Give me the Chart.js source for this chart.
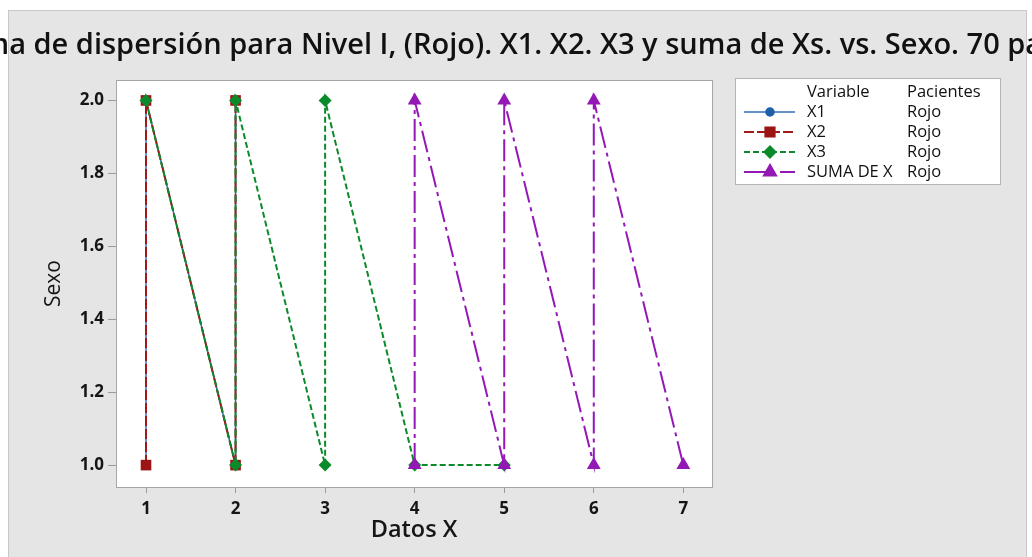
<!DOCTYPE html>
<html>
<head>
<meta charset="utf-8">
<script src="https://cdn.jsdelivr.net/npm/chart.js@4/dist/chart.umd.min.js"></script>
<style>
  body { margin: 0; background: #fff; }
  #wrap { width: 1032px; height: 557px; }
</style>
</head>
<body>
<div id="wrap"><canvas id="mycanvas" width="1032" height="557"></canvas></div>
<script>
// data (points in the order they are joined)
var xTicks = [1, 2, 3, 4, 5, 6, 7];
var yTicks = [1.0, 1.2, 1.4, 1.6, 1.8, 2.0];

var x1X = [1, 1, 2, 2];
var x1Y = [1, 2, 1, 2];
var x2X = [1, 1, 2, 2];
var x2Y = [1, 2, 1, 2];
var x3X = [1, 2, 2, 3, 3, 4, 5];
var x3Y = [2, 1, 2, 1, 2, 1, 1];
var sumaX = [4, 4, 5, 5, 6, 6, 7];
var sumaY = [1, 2, 1, 2, 1, 2, 1];

var seriesNames = ['X1', 'X2', 'X3', 'SUMA DE X'];
var groupName = 'Rojo';
var titleText = 'Diagrama de dispersión para Nivel I, (Rojo). X1. X2. X3 y suma de Xs. vs. Sexo. 70 pacientes';

function pts(xs, ys) {
    var out = [];
    for (var i = 0; i < xs.length; i++) {
        out.push({x: xs[i], y: ys[i]});
    }
    return out;
}

var FONT = "'Open Sans', 'DejaVu Sans', sans-serif";

var datasets = [
    {
        label: seriesNames[0], data: pts(x1X, x1Y),
        borderColor: '#2f6fb8', backgroundColor: '#1f5fa8', borderWidth: 1.5,
        pointStyle: 'circle', pointRadius: 5, order: 4
    },
    {
        label: seriesNames[1], data: pts(x2X, x2Y),
        borderColor: '#a01818', backgroundColor: '#9b1515', borderWidth: 2, borderDash: [10, 3],
        pointStyle: 'rect', pointRadius: 7.5, order: 3
    },
    {
        label: seriesNames[2], data: pts(x3X, x3Y),
        borderColor: '#0b8a2b', backgroundColor: '#0b8a2b', borderWidth: 2, borderDash: [6, 3],
        pointStyle: 'rectRot', pointRadius: 6.5, order: 2
    },
    {
        label: seriesNames[3], data: pts(sumaX, sumaY),
        borderColor: '#9318b6', backgroundColor: '#9318b6', borderWidth: 2, borderDash: [22, 5, 4, 5],
        pointStyle: 'triangle', pointRadius: 8, order: 1
    }
];
datasets.forEach(function (d) {
    d.showLine = true;
    d.fill = false;
    d.tension = 0;
    d.pointBorderWidth = 0;
    d.pointBorderColor = d.backgroundColor;
    d.pointBackgroundColor = d.backgroundColor;
    d.pointHoverRadius = d.pointRadius;
});

// grey panel, white plot box, title and the two column legend
var paperPlugin = {
    id: 'paper',
    beforeDraw: function (chart) {
        var c = chart.ctx, a = chart.chartArea;
        c.save();
        c.fillStyle = '#ffffff';
        c.fillRect(0, 0, chart.width, chart.height);
        c.fillStyle = '#e5e5e5';
        c.fillRect(9, 11, 1018, 560);
        c.strokeStyle = '#c8c8c8';
        c.lineWidth = 1;
        c.strokeRect(8.5, 10.5, 1018, 560);
        c.fillStyle = '#ffffff';
        c.fillRect(a.left, a.top, a.right - a.left, a.bottom - a.top);
        c.restore();
    },
    afterDraw: function (chart) {
        var c = chart.ctx, a = chart.chartArea;
        c.save();
        c.strokeStyle = '#a6a6a6';
        c.lineWidth = 1;
        c.strokeRect(a.left + 0.5, a.top + 0.5, a.right - a.left, a.bottom - a.top);

        // title (wider than the page, so it gets cut at both sides)
        c.fillStyle = '#111';
        c.font = '600 29px ' + FONT;
        c.textAlign = 'center';
        c.textBaseline = 'middle';
        c.fillText(titleText, chart.width / 2, 46);

        // legend
        var lx = 735, ly = 78, lw = 265, lh = 106;
        c.fillStyle = '#fff';
        c.fillRect(lx, ly, lw, lh);
        c.strokeStyle = '#b4b4b4';
        c.strokeRect(lx + 0.5, ly + 0.5, lw, lh);
        c.fillStyle = '#111';
        c.font = '500 16.5px ' + FONT;
        c.textAlign = 'left';
        c.fillText('Variable', 807, 92);
        c.fillText('Pacientes', 907, 92);
        var rowY = [112, 132, 152, 172];
        datasets.forEach(function (d, i) {
            var y = rowY[i];
            c.save();
            c.strokeStyle = d.borderColor;
            c.lineWidth = d.borderWidth;
            c.setLineDash(d.borderDash || []);
            c.beginPath();
            c.moveTo(744, y);
            c.lineTo(795, y);
            c.stroke();
            c.fillStyle = d.backgroundColor;
            c.strokeStyle = d.backgroundColor;
            c.setLineDash([]);
            Chart.helpers.drawPoint(c, {
                pointStyle: d.pointStyle, radius: d.pointRadius - 1, rotation: 0, borderWidth: 0.01
            }, 770, y);
            c.restore();
            c.fillStyle = '#111';
            c.fillText(d.label, 807, y);
            c.fillText(groupName, 907, y);
        });
        c.restore();
    }
};

var ctx = document.getElementById('mycanvas');
var scatterChart = new Chart(ctx, {
    type: 'scatter',
    data: {datasets: datasets},
    options: {
        responsive: false,
        animation: false,
        layout: {padding: {top: 80, right: 320, left: 0, bottom: 0}},
        plugins: {
            legend: {display: false},
            title: {display: false},
            tooltip: {enabled: false}
        },
        scales: {
            x: {
                type: 'linear',
                min: 0.665,
                max: 7.32,
                afterBuildTicks: function (scale) {
                    scale.ticks = xTicks.map(function (v) { return {value: v}; });
                },
                afterFit: function (scale) { scale.height = 70; },
                grid: {drawOnChartArea: false, tickLength: 6, color: '#9a9a9a', tickColor: '#9a9a9a'},
                border: {display: false},
                ticks: {
                    padding: 6, color: '#151515',
                    font: {family: FONT, size: 17, weight: '700'},
                    callback: function (v) { return v; }
                },
                title: {
                    display: true, text: 'Datos X', color: '#151515',
                    font: {family: FONT, size: 23.5, weight: '600'},
                    padding: {top: 0, bottom: 13}
                }
            },
            y: {
                type: 'linear',
                min: 0.94,
                max: 2.056,
                afterBuildTicks: function (scale) {
                    scale.ticks = yTicks.map(function (v) { return {value: v}; });
                },
                afterFit: function (scale) { scale.width = 116; },
                grid: {drawOnChartArea: false, tickLength: 8, color: '#9a9a9a', tickColor: '#9a9a9a'},
                border: {display: false},
                ticks: {
                    padding: 4, color: '#151515',
                    font: {family: FONT, size: 17, weight: '700'},
                    callback: function (v) { return Number(v).toFixed(1); }
                },
                title: {
                    display: true, text: 'Sexo', color: '#151515',
                    font: {family: FONT, size: 21, weight: '500'},
                    padding: {top: 41, bottom: 0}
                }
            }
        }
    },
    plugins: [paperPlugin]
});
</script>
</body>
</html>
